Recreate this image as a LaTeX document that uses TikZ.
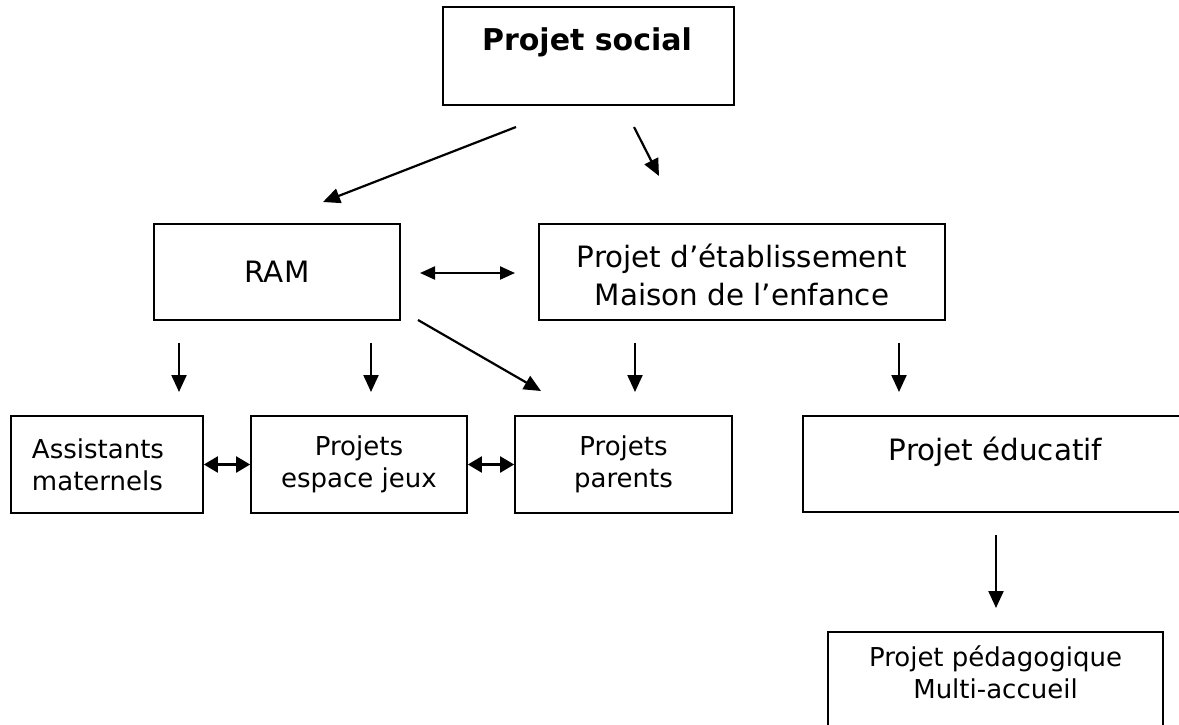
\documentclass[tikz,border=0pt]{standalone}
\usepackage{fontspec}
\setmainfont{DejaVu Sans}
\usetikzlibrary{arrows.meta}
\begin{document}
\begin{tikzpicture}[x=0.5pt,y=-0.5pt,
  box/.style={draw,line width=0.85pt,inner sep=0pt,align=center},
  big/.style={font=\fontsize{14.7}{19}\selectfont},
  bigbold/.style={font=\fontsize{15}{19}\bfseries\selectfont},
  small/.style={font=\fontsize{13}{16}\selectfont},
  arr/.style={line width=1.1pt,-{Triangle[length=8.5pt,width=7.5pt]}},
  darr/.style={line width=1.1pt,{Triangle[length=7.5pt,width=6.5pt]}-{Triangle[length=7.5pt,width=6.5pt]}},
  sdarr/.style={line width=1.1pt,{Triangle[length=7pt,width=8pt]}-{Triangle[length=7pt,width=8pt]}}]
\useasboundingbox (0,0) rectangle (1179,724);
\clip (0,0) rectangle (1179,724);

% boxes
\node[box,minimum width=145.5pt,minimum height=49pt] (social) at (588.5,56) {};
\node[bigbold,anchor=base,inner sep=0pt] (socialtxt) at (587,50) {Projet social};

\node[box,big,minimum width=123pt,minimum height=48pt] (ram) at (277,272) {RAM};
\node[box,minimum width=203pt,minimum height=48pt] (etab) at (742,272) {};
\node[big,align=center,anchor=base,inner sep=0pt] (etabtxt) at (742,305) {Projet d’établissement\\Maison de l’enfance};

\node[box,small,minimum width=96pt,minimum height=48.5pt,text width=75pt,align=left] (assist) at (107,464.5) {Assistants\\maternels};
\node[box,small,minimum width=108pt,minimum height=48.5pt] (espace) at (359,464.5) {Projets\\espace jeux};
\node[box,small,minimum width=108.5pt,minimum height=48.5pt] (parents) at (623.5,464.5) {Projets\\parents};

\node[box,minimum width=192.5pt,minimum height=48pt] (educ) at (995.5,464) {};
\node[big,anchor=base,inner sep=0pt] (eductxt) at (995.5,460) {Projet éducatif};

\node[box,minimum width=167.5pt,minimum height=64pt] (multi) at (995.5,696) {};
\node[small,align=center,anchor=base,inner sep=0pt] (multitxt) at (995.5,698) {Projet pédagogique\\Multi-accueil};

% free connector ends
\coordinate (a1s) at (516,127); \coordinate (a1e) at (323,202);
\coordinate (a2s) at (634,127); \coordinate (a2e) at (659,176);
\coordinate (d1s) at (420,273); \coordinate (d1e) at (515,273);
\coordinate (v1s) at (179,343); \coordinate (v1e) at (179,392);
\coordinate (v2s) at (371,343); \coordinate (v2e) at (371,392);
\coordinate (v3s) at (635,343); \coordinate (v3e) at (635,392);
\coordinate (v4s) at (899,343); \coordinate (v4e) at (899,392);
\coordinate (g1s) at (418,320); \coordinate (g1e) at (541,391);
\coordinate (e1s) at (996,535); \coordinate (e1e) at (996,608);

\draw[arr] (a1s) -- (a1e);
\draw[arr] (a2s) -- (a2e);
\draw[darr] (d1s) -- (d1e);
\draw[arr] (v1s) -- (v1e);
\draw[arr] (v2s) -- (v2e);
\draw[arr] (v3s) -- (v3e);
\draw[arr] (v4s) -- (v4e);
\draw[arr] (g1s) -- (g1e);
\draw[arr] (e1s) -- (e1e);
\draw[sdarr] (assist.east) -- (espace.west);
\draw[sdarr] (espace.east) -- (parents.west);
\end{tikzpicture}
\end{document}
